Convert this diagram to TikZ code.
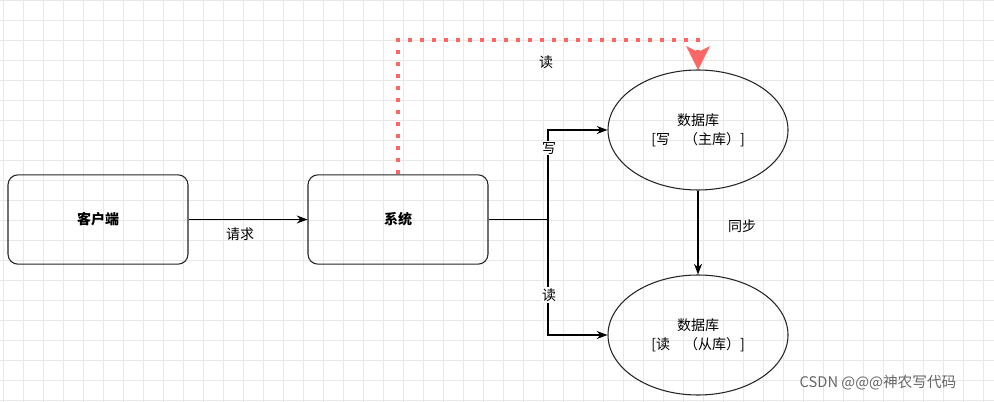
\documentclass[tikz,border=0pt]{standalone}
\usepackage{fontspec}
\setmainfont{Noto Sans CJK SC}
\usetikzlibrary{arrows.meta,shapes.geometric}
\begin{document}
\begin{tikzpicture}[x=0.75pt,y=-0.75pt,
  box/.style={draw=black!85,line width=0.8pt,rounded corners=7.5pt,minimum width=135pt,minimum height=67pt,inner sep=0pt,font=\fontsize{10.5}{12}\selectfont\bfseries},
  db/.style={draw=black!85,line width=0.8pt,ellipse,minimum width=135pt,minimum height=90pt,inner sep=0pt,align=center,font=\fontsize{10.5}{14}\selectfont},
  lbl/.style={font=\fontsize{10.5}{12}\selectfont,inner sep=1pt},
  arr/.style={line width=0.8pt,-{Stealth[length=8pt,width=6pt]}}]
\useasboundingbox (0,0) rectangle (994,402);
\fill[white] (0,0) rectangle (994,402);
\foreach \x in {3,23,...,993} \draw[black!9,line width=0.6pt] (\x,0) -- (\x,402);
\foreach \y in {0,20,...,400} \draw[black!9,line width=0.6pt] (0,\y) -- (994,\y);
\node[box] (client) at (98,219.5) {客户端};
\node[box] (sys) at (398,219.5) {系统};
\node[db] (m) at (698,130) {数据库\\{[}写\quad（主库）]};
\node[db] (s) at (698,335) {数据库\\{[}读\quad（从库）]};
\coordinate (j) at (548,219.5);
\coordinate (top1) at (398,40);
\coordinate (top2) at (698,40);
\draw[arr] (client) -- (sys);
\node[lbl] at (240,234) {请求};
\draw[line width=0.8pt] (sys.east) -- (j);
\draw[arr] (j) |- (m.west);
\draw[arr] (j) |- (s.west);
\node[lbl,fill=white] at (549,148) {写};
\node[lbl,fill=white] at (549,295) {读};
\draw[arr] (m) -- (s);
\node[lbl] at (742,226) {同步};
\draw[red!60,line width=3pt,dash pattern=on 3pt off 6pt] (sys.north) -- (top1) -- (top2) -- ([yshift=12pt]m.north);
\fill[red!60] (686,46) -- (698,52) -- (710,46) -- (698,70) -- cycle;
\node[lbl] at (546,62) {读};
\node[font=\fontsize{11}{12}\selectfont,text=black!60] at (878,383) {CSDN @@@神农写代码};
\end{tikzpicture}
\end{document}
